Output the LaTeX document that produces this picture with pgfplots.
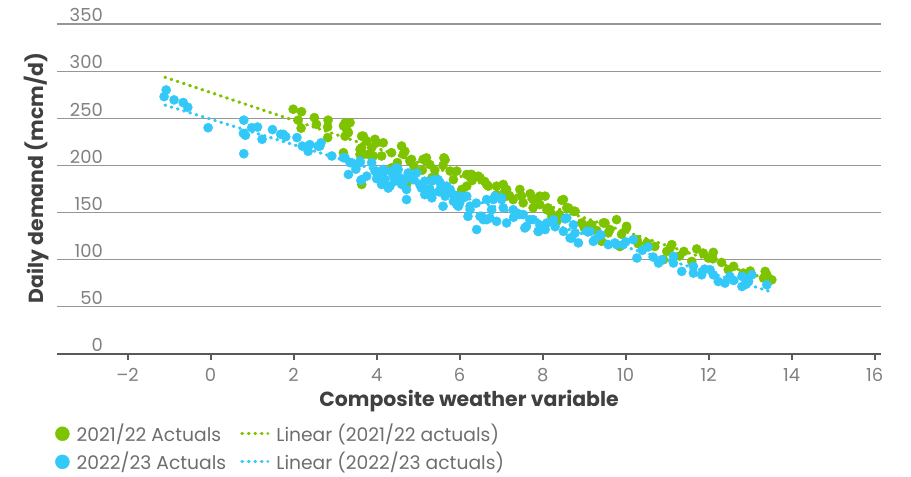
\documentclass[border=0pt]{standalone}
\usepackage{fontspec}
\setmainfont{Poppins}
\usepackage{pgfplots}
\pgfplotsset{compat=1.18}
\definecolor{gA}{RGB}{125,195,0}
\definecolor{bA}{RGB}{50,200,248}
\definecolor{gridc}{RGB}{150,150,150}
\definecolor{axc}{RGB}{89,89,89}
\definecolor{tickc}{RGB}{128,128,128}
\definecolor{legc}{RGB}{110,110,110}
\definecolor{titc}{RGB}{64,64,64}

\pgfplotstableread{
x y
1.99 259.6
2.19 257.0
2.11 248.0
2.18 239.5
2.50 250.7
2.55 243.6
2.83 248.0
2.82 240.8
2.82 229.5
3.20 242.0
3.36 245.4
3.32 234.8
3.24 231.0
3.68 231.0
3.76 226.0
3.96 227.7
4.16 224.0
3.64 218.8
3.88 218.8
3.60 211.7
3.80 211.7
4.12 210.0
4.36 213.5
4.60 220.6
4.64 211.7
4.84 206.4
5.20 208.0
5.28 201.0
3.20 213.5
3.64 179.8
4.36 197.5
4.72 179.8
5.33 187.0
5.62 208.0
5.40 195.0
5.40 188.6
5.77 194.0
5.93 194.0
6.25 190.4
6.45 188.6
6.17 178.0
6.69 178.0
7.05 179.8
7.09 172.7
7.45 174.5
6.89 169.0
7.53 160.3
7.89 165.6
7.93 158.5
7.77 155.0
8.13 155.0
8.22 146.0
7.29 163.8
6.01 169.0
8.46 163.0
8.58 155.0
8.78 151.4
8.18 151.4
8.34 140.7
8.94 139.0
9.18 137.0
9.50 139.0
9.78 142.5
9.62 132.0
10.02 133.7
10.27 121.3
10.51 117.8
9.42 119.5
11.11 116.0
8.06 167.4
11.07 112.4
10.99 108.8
11.40 108.8
11.71 111.4
11.87 107.0
12.11 107.8
11.99 101.8
12.31 97.1
12.47 89.4
12.83 85.8
13.36 87.6
13.52 78.7
13.32 80.5
11.59 98.2
10.91 100.0
4.50 203.0
4.90 199.0
5.10 195.0
5.60 200.0
6.30 184.0
6.60 183.0
7.20 168.0
7.70 170.0
8.40 148.0
9.00 134.0
9.30 131.0
9.90 127.0
10.30 117.0
10.70 114.0
11.30 104.0
12.10 101.0
12.60 93.0
13.00 88.0
13.40 84.0
3.24 245.0
3.28 238.0
3.64 231.0
3.60 217.0
4.00 224.0
3.68 211.7
3.92 210.0
4.68 215.0
4.80 204.6
5.12 206.4
5.65 206.0
6.17 190.4
6.29 190.4
6.49 187.0
5.85 185.0
6.05 174.5
6.65 179.8
6.89 178.0
7.13 174.5
7.49 167.4
7.13 167.4
7.77 163.8
7.93 167.4
8.10 153.0
8.50 163.8
8.62 155.0
8.74 151.4
9.14 137.0
9.46 139.0
9.58 128.4
10.02 135.4
9.86 114.0
}\greendata

\pgfplotstableread{
x y
-1.07 280.0
-1.12 273.0
-0.88 269.5
-0.66 266.7
-0.55 261.7
-0.06 240.0
0.80 248.0
0.79 234.0
0.84 232.0
0.80 212.4
0.99 240.0
1.13 240.7
1.24 227.7
1.49 238.0
1.69 233.0
1.81 230.5
2.08 229.5
2.21 220.5
2.35 215.0
2.39 222.0
2.59 220.5
2.66 224.0
2.92 210.0
3.24 208.0
3.40 202.9
3.32 190.4
3.60 202.9
3.76 188.6
3.62 184.0
3.88 202.9
3.96 194.0
4.16 192.0
4.20 185.0
4.36 194.0
4.48 197.5
4.56 187.0
4.28 176.0
4.76 192.0
4.96 192.0
4.72 174.5
4.72 163.8
5.08 176.0
5.16 169.0
5.33 165.6
5.33 183.3
4.44 183.3
4.12 179.8
5.16 183.3
5.36 185.0
5.28 174.5
5.53 181.6
5.69 178.0
5.65 167.4
5.85 169.0
5.60 156.7
5.93 158.5
6.09 165.6
6.25 156.7
6.20 146.0
6.41 132.0
6.53 146.0
6.65 163.8
6.85 167.4
7.01 165.6
6.77 153.0
7.05 155.0
6.89 140.7
7.13 139.0
7.29 153.0
7.45 147.9
7.61 135.4
7.77 142.5
7.93 137.0
8.10 139.0
8.06 132.0
6.65 142.5
8.54 143.3
8.50 130.0
8.74 137.0
8.78 128.4
8.66 123.0
8.86 117.8
9.14 130.0
9.26 121.3
9.58 116.0
9.74 117.8
9.94 116.0
10.18 121.3
10.54 113.5
10.27 101.8
10.66 102.9
10.79 96.5
11.15 103.5
10.87 100.0
11.15 96.5
11.35 87.6
11.63 92.9
11.63 85.8
11.83 84.0
12.03 89.4
12.11 84.0
12.23 76.9
12.39 75.2
12.51 82.3
12.80 82.3
12.80 71.6
12.96 76.9
13.04 84.0
13.40 73.4
12.87 80.5
4.00 186.0
4.60 180.0
3.50 196.0
4.90 185.0
5.50 172.0
6.00 160.0
6.40 160.0
7.30 145.0
7.90 130.0
8.30 135.0
9.40 126.0
10.00 119.0
10.40 110.0
11.90 90.0
12.60 78.0
12.90 74.0
1.75 233.0
2.63 220.5
3.20 208.2
3.36 202.9
3.60 204.6
3.64 185.0
4.00 194.0
4.16 195.7
4.32 178.0
4.40 188.6
4.52 195.7
4.68 185.0
4.88 185.0
5.04 179.8
5.20 174.5
5.33 171.0
5.48 185.0
5.53 174.5
5.60 178.0
5.77 174.5
5.85 162.0
5.97 156.7
6.01 167.4
6.17 167.4
6.25 153.2
6.49 146.0
6.57 142.5
6.73 144.3
6.81 163.8
7.01 163.8
7.37 149.7
7.53 147.9
7.57 133.7
7.69 142.5
7.89 130.1
8.26 142.5
8.58 144.3
8.70 123.0
9.06 130.1
9.22 119.5
9.38 126.6
9.78 116.0
}\bluedata

\begin{document}
\begin{tikzpicture}
\path[use as bounding box] (0,0) rectangle (911bp,477bp);
\begin{axis}[
  at={(57bp,123bp)}, anchor=south west,
  scale only axis, width=824bp, height=330bp,
  xmin=-3.7, xmax=16.15, ymin=0, ymax=350,
  axis x line*=bottom, axis y line*=left,
  y axis line style={draw=none},
  x axis line style={axc, line width=2bp},
  xtick={-2,0,2,4,6,8,10,12,14,16},
  xticklabels={--2,0,2,4,6,8,10,12,14,16},
  ytick={0,50,...,350},
  tick align=outside,
  major tick length=6bp,
  xtick style={axc, line width=2bp},
  ytick style={draw=none},
  ymajorgrids, grid style={gridc, line width=1.2bp},
  /pgf/number format/assume math mode=true,
  xticklabel style={font=\fontsize{18}{20}\selectfont, text=tickc, anchor=north, inner sep=0pt, yshift=-8bp},
  yticklabel style={font=\fontsize{18}{20}\selectfont, text=tickc, anchor=south east, inner sep=0pt, xshift=52bp, yshift=2bp},
  xlabel={Composite weather variable},
  ylabel={Daily demand (mcm/d)},
  xlabel style={font=\bfseries\fontsize{20.5}{24}\selectfont, text=titc, at={(rel axis cs:0.5,-0.143)}, anchor=center},
  ylabel style={font=\bfseries\fontsize{20.5}{24}\selectfont, text=titc, at={(rel axis cs:-0.0243,0.533)}, anchor=center},
  legend columns=2, transpose legend,
  legend cell align=left,
  legend style={at={(rel axis cs:-0.0024,-0.206)}, anchor=north west, draw=none, fill=none, inner sep=0pt,
    font=\fontsize{18.8}{21}\selectfont, row sep=5bp,
    /tikz/every even column/.append style={column sep=12bp}},
]
\addplot[gA, only marks, mark=*, mark size=4.6bp, mark options={solid, draw=gA, fill=gA},
  legend image code/.code={\fill[gA] (7bp,0) circle (7bp); \path (19bp,0);}] table[x=x,y=y] {\greendata};
\addlegendentry{\textcolor{legc}{2021/22 Actuals}}
\addplot[bA, only marks, mark=*, mark size=4.6bp, mark options={solid, draw=bA, fill=bA},
  legend image code/.code={\fill[bA] (7bp,0) circle (7bp); \path (19bp,0);}] table[x=x,y=y] {\bluedata};
\addlegendentry{\textcolor{legc}{2022/23 Actuals}}
\addplot[gA, line width=3.2bp, line cap=round, dash pattern=on 0.8bp off 5.7bp,
  legend image code/.code={\draw[gA, line width=3.2bp, line cap=round, dash pattern=on 0.8bp off 5.7bp] (0,0) -- (26bp,0); \path (31bp,0);}]
  coordinates {(-1.1,293.6) (13.5,78.0)};
\addlegendentry{\textcolor{legc}{Linear (2021/22 actuals)}}
\addplot[bA, line width=3.2bp, line cap=round, dash pattern=on 0.8bp off 5.7bp,
  legend image code/.code={\draw[bA, line width=3.2bp, line cap=round, dash pattern=on 0.8bp off 5.7bp] (0,0) -- (26bp,0); \path (31bp,0);}]
  coordinates {(-1.1,264.0) (13.5,66.0)};
\addlegendentry{\textcolor{legc}{Linear (2022/23 actuals)}}
\end{axis}
\end{tikzpicture}
\end{document}
